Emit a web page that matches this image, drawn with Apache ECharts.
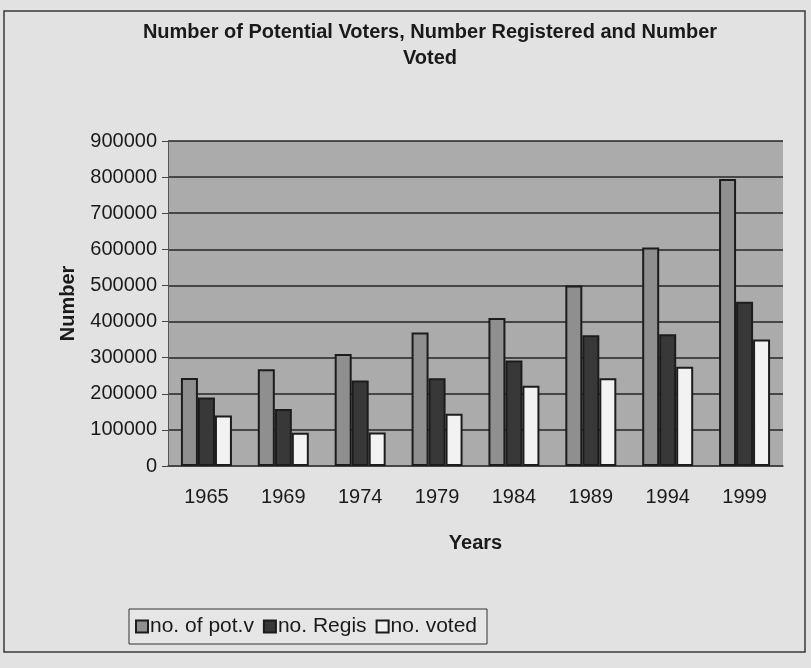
<!DOCTYPE html>
<html>
<head>
  <meta charset="utf-8" />
  <title>Voters</title>
  <style>
    html, body { margin: 0; padding: 0; background: #e2e2e2; }
  </style>
  <script src="https://cdn.jsdelivr.net/npm/echarts@6/dist/echarts.min.js"></script>
</head>
<body>
  <div id="main" style="width: 811px; height: 668px;"></div>
  <script type="text/javascript">
    // 数据
    var years = ['1965', '1969', '1974', '1979', '1984', '1989', '1994', '1999'];
    var potVoters = [244000, 268000, 310000, 370000, 410000, 500000, 605000, 795000];
    var registered = [190000, 158000, 237000, 243000, 292000, 362000, 365000, 455000];
    var voted = [140000, 92000, 93000, 145000, 222000, 243000, 275000, 350000];
    var yTicks = [0, 100000, 200000, 300000, 400000, 500000, 600000, 700000, 800000, 900000];

    var font = "'Liberation Sans', Arial, sans-serif";
    var myChart = echarts.init(document.getElementById('main'));

    function barSeries(name, data, color) {
      return {
        name: name,
        type: 'bar',
        data: data,
        barWidth: 17,
        barGap: '0%',
        itemStyle: { color: color, borderColor: '#1c1c1c', borderWidth: 2 }
      };
    }

    var option = {
      animation: false,
      backgroundColor: '#e2e2e2',
      textStyle: { fontFamily: font, color: '#1a1a1a' },
      title: {
        text: 'Number of Potential Voters, Number Registered and Number\nVoted',
        left: 425,
        top: 14,
        textAlign: 'center',
        textStyle: { fontFamily: font, fontSize: 20, fontWeight: 'bold', color: '#1a1a1a', lineHeight: 26 }
      },
      graphic: [{
        type: 'rect',
        shape: { x: 4, y: 11, width: 801, height: 641 },
        style: { fill: 'none', stroke: '#3a3a3a', lineWidth: 1.5 },
        silent: true
      }],
      legend: {
        left: 129,
        top: 609,
        orient: 'horizontal',
        itemWidth: 12,
        itemHeight: 12,
        itemGap: 9,
        padding: [7, 10, 7, 6],
        borderColor: '#333',
        borderWidth: 1,
        backgroundColor: '#e6e6e6',
        icon: 'rect',
        textStyle: { fontFamily: font, fontSize: 21, color: '#1a1a1a', padding: [0, 0, 0, -3] },
        data: ['no. of pot.v', 'no. Regis', 'no. voted']
      },
      grid: {
        left: 168,
        right: 28,
        top: 141,
        bottom: 202,
        show: true,
        backgroundColor: '#ababab',
        borderWidth: 0
      },
      xAxis: {
        type: 'category',
        data: years,
        name: 'Years',
        nameLocation: 'middle',
        nameGap: 67,
        nameTextStyle: { fontFamily: font, fontSize: 20, fontWeight: 'bold', color: '#1a1a1a' },
        axisLine: { lineStyle: { color: '#444', width: 1.5 } },
        axisTick: { length: 6, lineStyle: { color: '#444' } },
        axisLabel: { margin: 21, fontFamily: font, fontSize: 20, color: '#1a1a1a' }
      },
      yAxis: {
        type: 'value',
        min: 0,
        max: 900000,
        interval: 100000,
        name: 'Number',
        nameLocation: 'middle',
        nameGap: 90,
        nameTextStyle: { fontFamily: font, fontSize: 20, fontWeight: 'bold', color: '#1a1a1a' },
        axisLine: { show: true, lineStyle: { color: '#555', width: 1 } },
        axisTick: { show: true, length: 6, lineStyle: { color: '#444' } },
        axisLabel: {
          margin: 11,
          fontFamily: font,
          fontSize: 20,
          color: '#1a1a1a',
          formatter: function (v) { return yTicks.indexOf(v) >= 0 ? String(v) : ''; }
        },
        splitLine: { show: true, lineStyle: { color: '#252525', width: 1.5 } }
      },
      series: [
        barSeries('no. of pot.v', potVoters, '#8f8f8f'),
        barSeries('no. Regis', registered, '#383838'),
        barSeries('no. voted', voted, '#f2f2f2')
      ]
    };
    myChart.setOption(option);
  </script>
</body>
</html>
